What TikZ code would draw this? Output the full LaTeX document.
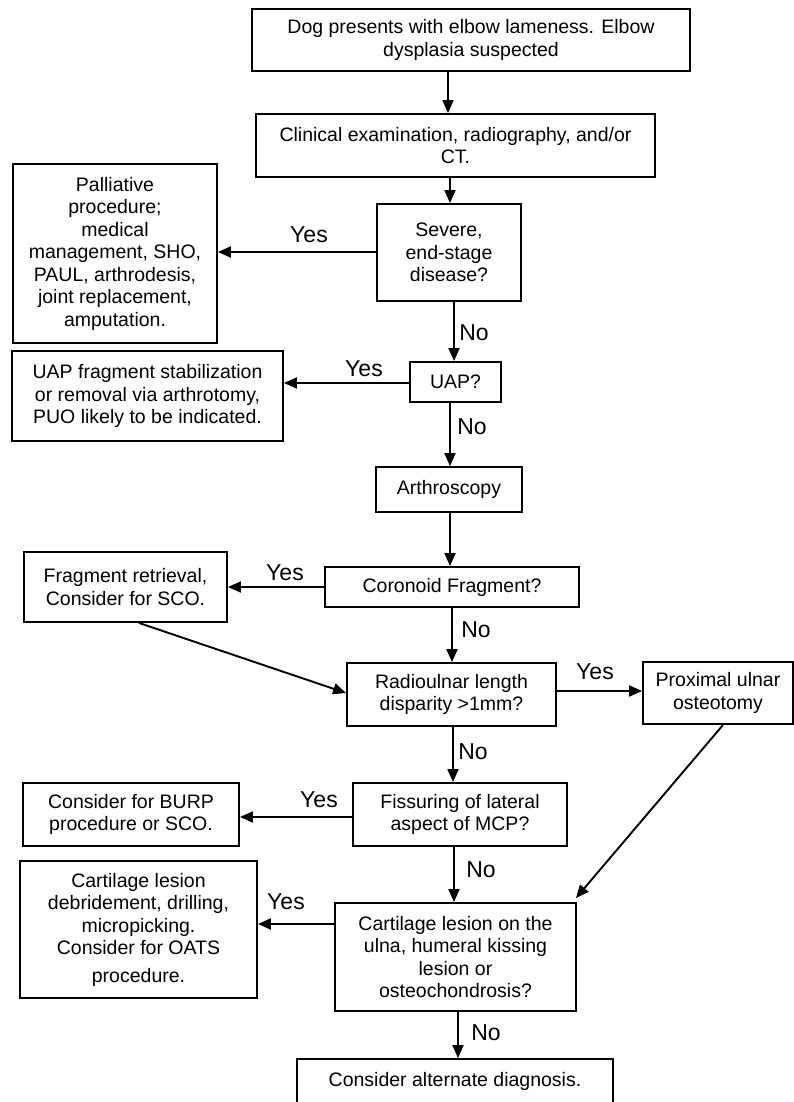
\documentclass[tikz,border=0pt]{standalone}
\usepackage{fontspec}
\setmainfont{Liberation Sans}
\usetikzlibrary{arrows.meta}
\tikzset{
  box/.style={draw=black, line width=1.9pt, inner sep=0pt, align=center,
    font=\fontsize{19.5}{22.5}\selectfont},
  arr/.style={line width=1.9pt, -{Triangle[length=13pt,width=11pt]}},
  lbl/.style={inner sep=0pt, font=\fontsize{23}{26}\selectfont}
}
\begin{document}
\begin{tikzpicture}[x=1pt,y=-1pt]
\useasboundingbox (0,0) rectangle (794,1102);
\clip (0,0) rectangle (794,1102);
% boxes
\node[box, minimum width=438pt, minimum height=62pt] (b1) at (471,40)
  {Dog presents with elbow lameness. Elbow\\dysplasia suspected};
\node[box, minimum width=399pt, minimum height=63pt] (b2) at (455.5,145.5)
  {Clinical examination, radiography, and/or\\CT.};
\node[box, minimum width=144pt, minimum height=97pt] (sev) at (449,252.5)
  {Severe,\\end-stage\\disease?};
\node[box, minimum width=204pt, minimum height=179pt] (pall) at (115,253.5)
  {Palliative\\procedure;\\medical\\management, SHO,\\PAUL, arthrodesis,\\joint replacement,\\amputation.};
\node[box, minimum width=91pt, minimum height=40pt] (uap) at (455.5,382)
  {UAP?};
\node[box, minimum width=271pt, minimum height=90pt] (uapL) at (147.5,396)
  {UAP fragment stabilization\\or removal via arthrotomy,\\PUO likely to be indicated.};
\node[box, minimum width=146pt, minimum height=45pt] (arth) at (449,489.5)
  {Arthroscopy};
\node[box, minimum width=254pt, minimum height=40pt] (cor) at (452,587)
  {Coronoid Fragment?};
\node[box, minimum width=203pt, minimum height=70pt] (frag) at (125.5,587)
  {Fragment retrieval,\\Consider for SCO.};
\node[box, minimum width=209pt, minimum height=63pt] (radio) at (451.5,694.5)
  {Radioulnar length\\disparity >1mm?};
\node[box, minimum width=150pt, minimum height=62pt] (prox) at (718,693)
  {Proximal ulnar\\osteotomy};
\node[box, minimum width=214pt, minimum height=63pt] (fiss) at (460,814.5)
  {Fissuring of lateral\\aspect of MCP?};
\node[box, minimum width=216pt, minimum height=63pt] (burp) at (131,814.5)
  {Consider for BURP\\procedure or SCO.};
\node[box, minimum width=237pt, minimum height=137pt] (cartL) at (138.5,929.5)
  {Cartilage lesion\\debridement, drilling,\\micropicking.\\Consider for OATS\\[5pt]procedure.};
\node[box, minimum width=241pt, minimum height=108pt] (cartQ) at (455.5,957)
  {Cartilage lesion on the\\ulna, humeral kissing\\lesion or\\osteochondrosis?};
\node[box, minimum width=316pt, minimum height=45pt] (alt) at (455,1081.5)
  {Consider alternate diagnosis.};
% vertical arrows
\draw[arr] ([xshift=-23pt]b1.south) -- ([xshift=-7.5pt]b2.north);
\draw[arr] ([xshift=-5.5pt]b2.south) -- ([xshift=1pt]sev.north);
\draw[arr] ([xshift=5pt]sev.south) -- ([xshift=-1.5pt]uap.north);
\draw[arr] ([xshift=-5.5pt]uap.south) -- ([xshift=1pt]arth.north);
\draw[arr] ([xshift=1pt]arth.south) -- ([xshift=-2pt]cor.north);
\draw[arr] (cor.south) -- ([xshift=0.5pt]radio.north);
\draw[arr] ([xshift=1.5pt]radio.south) -- ([xshift=-7pt]fiss.north);
\draw[arr] ([xshift=-6pt]fiss.south) -- ([xshift=-1.5pt]cartQ.north);
\draw[arr] ([xshift=2.5pt]cartQ.south) -- ([xshift=3pt]alt.north);
% horizontal arrows
\draw[arr] ([yshift=0.5pt]sev.west) -- ([yshift=1.5pt]pall.east);
\draw[arr] ([yshift=-1pt]uap.west) -- ([yshift=13pt]uapL.east);
\draw[arr] (cor.west) -- (frag.east);
\draw[arr] ([yshift=3.5pt]radio.east) -- ([yshift=2pt]prox.west);
\draw[arr] ([yshift=-2.5pt]fiss.west) -- ([yshift=-2.5pt]burp.east);
\draw[arr] ([yshift=33pt]cartQ.west) -- ([yshift=5.5pt]cartL.east);
% diagonal arrows
\draw[arr] ([xshift=13.5pt]frag.south) -- ([yshift=1.5pt]radio.west);
\draw[arr] ([xshift=5pt]prox.south) -- ([xshift=-1pt,yshift=4pt]cartQ.north east);
% labels
\node[lbl] (l1) at (309,235) {Yes};
\node[lbl] (l2) at (474,333) {No};
\node[lbl] (l3) at (364,369) {Yes};
\node[lbl] (l4) at (472,427) {No};
\node[lbl] (l5) at (285,573) {Yes};
\node[lbl] (l6) at (476,630) {No};
\node[lbl] (l7) at (595,672) {Yes};
\node[lbl] (l8) at (473,752) {No};
\node[lbl] (l9) at (319,800) {Yes};
\node[lbl] (l10) at (481,870) {No};
\node[lbl] (l11) at (286,902) {Yes};
\node[lbl] (l12) at (486,1033) {No};
\end{tikzpicture}
\end{document}
